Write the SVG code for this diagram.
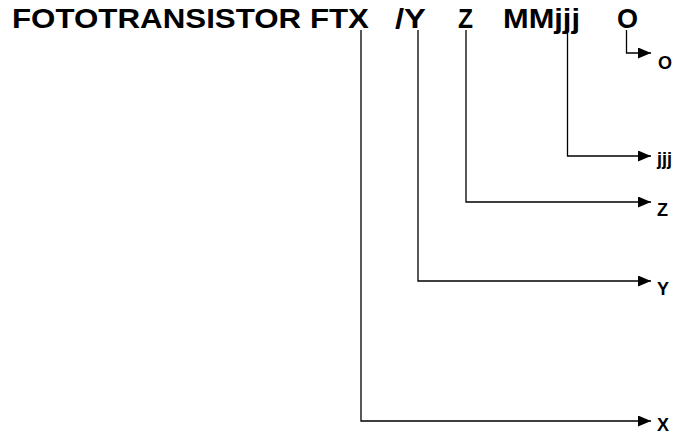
<svg xmlns="http://www.w3.org/2000/svg" width="679" height="434" viewBox="0 0 679 434">
<style>
.t{font-family:"Liberation Sans",Arial,sans-serif;font-weight:bold;fill:#000}
.title{font-size:28px}
.lbl{font-size:18px}
.c{fill:none;stroke:#000;stroke-width:1.3}
</style>
<defs>
<marker id="ah" markerWidth="13" markerHeight="11" refX="13" refY="5.5" orient="auto" markerUnits="userSpaceOnUse">
<path d="M0,0 L13,5.5 L0,11 Z" fill="#000"/>
</marker>
</defs>
<rect width="679" height="434" fill="#fff"/>
<g id="title">
<text class="t title" y="28"><tspan x="12" textLength="357" lengthAdjust="spacingAndGlyphs">FOTOTRANSISTOR FTX</tspan><tspan x="395" textLength="31" lengthAdjust="spacingAndGlyphs">/Y</tspan><tspan x="458" textLength="15" lengthAdjust="spacingAndGlyphs">Z</tspan><tspan x="503" textLength="77" lengthAdjust="spacingAndGlyphs">MMjjj</tspan><tspan x="617" textLength="21" lengthAdjust="spacingAndGlyphs">O</tspan></text>
</g>
<g id="connectors">
<path class="c" d="M361,30 V421 H651" marker-end="url(#ah)"/>
<path class="c" d="M418,30 V281 H651" marker-end="url(#ah)"/>
<path class="c" d="M466,30 V202 H651" marker-end="url(#ah)"/>
<path class="c" d="M567.5,30 V156 H651" marker-end="url(#ah)"/>
<path class="c" d="M626.5,30 V53 H651" marker-end="url(#ah)"/>
</g>
<g id="label-O"><text class="t lbl" x="658" y="69">O</text></g>
<g id="label-jjj"><text class="t lbl" x="657" y="165">jjj</text></g>
<g id="label-Z"><text class="t lbl" x="657" y="216">Z</text></g>
<g id="label-Y"><text class="t lbl" x="657" y="295">Y</text></g>
<g id="label-X"><text class="t lbl" x="657" y="431">X</text></g>
</svg>
